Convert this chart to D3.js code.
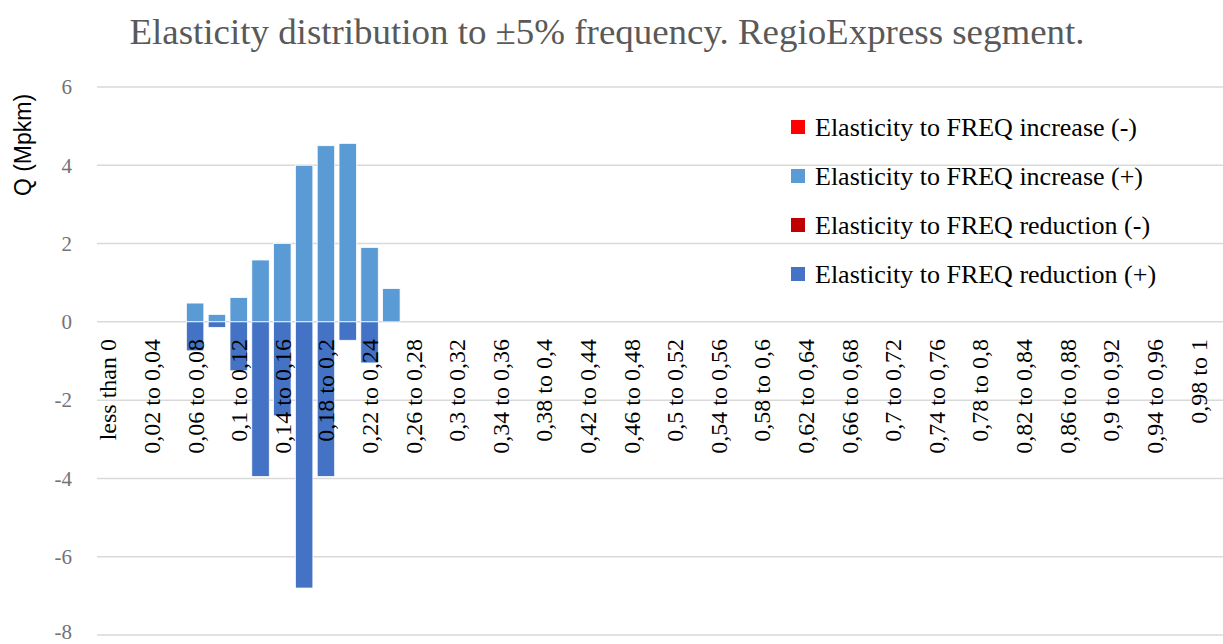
<!DOCTYPE html>
<html>
<head>
<meta charset="utf-8">
<script src="https://cdn.jsdelivr.net/npm/d3@7"></script>
<style>
  body { margin: 0; background: #fff; }
  svg { display: block; }
</style>
</head>
<body>
<div id="chart"></div>
<script>
// categories: "less than 0", then 0.02 wide bins up to 1
const categories = ['less than 0'];
const binEdges = ['0', '0,02', '0,04', '0,06', '0,08', '0,1', '0,12', '0,14', '0,16', '0,18', '0,2',
  '0,22', '0,24', '0,26', '0,28', '0,3', '0,32', '0,34', '0,36', '0,38', '0,4',
  '0,42', '0,44', '0,46', '0,48', '0,5', '0,52', '0,54', '0,56', '0,58', '0,6',
  '0,62', '0,64', '0,66', '0,68', '0,7', '0,72', '0,74', '0,76', '0,78', '0,8',
  '0,82', '0,84', '0,86', '0,88', '0,9', '0,92', '0,94', '0,96', '0,98', '1'];
for (let i = 0; i < binEdges.length - 1; i++) categories.push(binEdges[i] + ' to ' + binEdges[i + 1]);

const seriesNames = [
  'Elasticity to FREQ increase (-)',
  'Elasticity to FREQ increase (+)',
  'Elasticity to FREQ reduction (-)',
  'Elasticity to FREQ reduction (+)'
];
const seriesColors = ['#ff0000', '#5b9bd5', '#c00000', '#4472c4'];

// values for the first bins; the rest are empty
const increaseNeg = [];
const increasePos = [0, 0, 0, 0, 0.48, 0.19, 0.62, 1.58, 2.0, 4.0, 4.5, 4.56, 1.9, 0.85];
const reductionNeg = [];
const reductionPos = [0, 0, 0, 0, -0.74, -0.14, -1.25, -3.95, -2.4, -6.8, -3.95, -0.47, -1.05, 0];

const yTicks = [-8, -6, -4, -2, 0, 2, 4, 6];

const width = 1223, height = 644;
const plotLeft = 97, plotRight = 1209, gridRight = 1223;
const plotTop = 87, plotBottom = 635;

const svg = d3.select('#chart').append('svg')
  .attr('width', width)
  .attr('height', height);

const table = categories.map((c, i) => ({
  cat: c,
  s0: increaseNeg[i] || 0,
  s1: increasePos[i] || 0,
  s2: reductionNeg[i] || 0,
  s3: reductionPos[i] || 0
}));

const stack = d3.stack()
  .keys(['s0', 's1', 's2', 's3'])
  .offset(d3.stackOffsetDiverging);
const stacked = stack(table);

const x = d3.scaleBand()
  .domain(categories)
  .range([plotLeft, plotRight])
  .paddingInner(0.2)
  .paddingOuter(0.1);

const y = d3.scaleLinear()
  .domain([-8, 6])
  .range([plotBottom, plotTop]);

// gridlines
svg.append('g')
  .selectAll('line')
  .data(yTicks)
  .join('line')
  .attr('x1', plotLeft)
  .attr('x2', gridRight)
  .attr('y1', d => y(d))
  .attr('y2', d => y(d))
  .attr('stroke', '#d9d9d9')
  .attr('stroke-width', 1.5);

// y tick labels
svg.append('g')
  .selectAll('text')
  .data(yTicks)
  .join('text')
  .attr('x', 72)
  .attr('y', d => y(d))
  .attr('dy', d => d === -8 ? '0.2em' : '0.35em')
  .attr('text-anchor', 'end')
  .attr('font-family', 'Liberation Serif')
  .attr('font-size', '21px')
  .attr('fill', '#737373')
  .text(d => d);

// bars
svg.append('g')
  .selectAll('g')
  .data(stacked)
  .join('g')
  .attr('fill', (d, i) => seriesColors[i])
  .selectAll('rect')
  .data(d => d.filter(p => p[1] !== p[0]))
  .join('rect')
  .attr('x', d => x(d.data.cat))
  .attr('width', x.bandwidth())
  .attr('y', d => y(Math.max(d[0], d[1])))
  .attr('height', d => Math.abs(y(d[0]) - y(d[1])))
  .attr('stroke', '#fff')
  .attr('stroke-width', 0.75);

// category labels, every other one, drawn over the bars
svg.append('g')
  .selectAll('text')
  .data(categories.filter((c, i) => i % 2 === 0))
  .join('text')
  .attr('transform', d => `translate(${x(d) + x.bandwidth() / 2},339) rotate(-90)`)
  .attr('dy', '0.35em')
  .attr('text-anchor', 'end')
  .attr('font-family', 'Liberation Serif')
  .attr('font-size', '24px')
  .attr('fill', '#000')
  .text(d => d);

// y axis title
svg.append('text')
  .attr('transform', 'translate(31,145) rotate(-90)')
  .attr('text-anchor', 'middle')
  .attr('font-family', 'Liberation Sans')
  .attr('font-size', '23px')
  .attr('fill', '#000')
  .text('Q (Mpkm)');

// chart title
svg.append('text')
  .attr('x', 607)
  .attr('y', 44)
  .attr('text-anchor', 'middle')
  .attr('font-family', 'Liberation Serif')
  .attr('font-size', '35px')
  .attr('fill', '#595959')
  .attr('textLength', 955)
  .attr('lengthAdjust', 'spacingAndGlyphs')
  .text('Elasticity distribution to ±5% frequency. RegioExpress segment.');

// legend
const legend = svg.append('g')
  .selectAll('g')
  .data(seriesNames)
  .join('g')
  .attr('transform', (d, i) => `translate(791,${127 + i * 49})`);

legend.append('rect')
  .attr('x', 0)
  .attr('y', -7)
  .attr('width', 14)
  .attr('height', 14)
  .attr('fill', (d, i) => seriesColors[i]);

legend.append('text')
  .attr('x', 24)
  .attr('dy', '0.35em')
  .attr('font-family', 'Liberation Serif')
  .attr('font-size', '26px')
  .attr('fill', '#000')
  .text(d => d);
</script>
</body>
</html>
